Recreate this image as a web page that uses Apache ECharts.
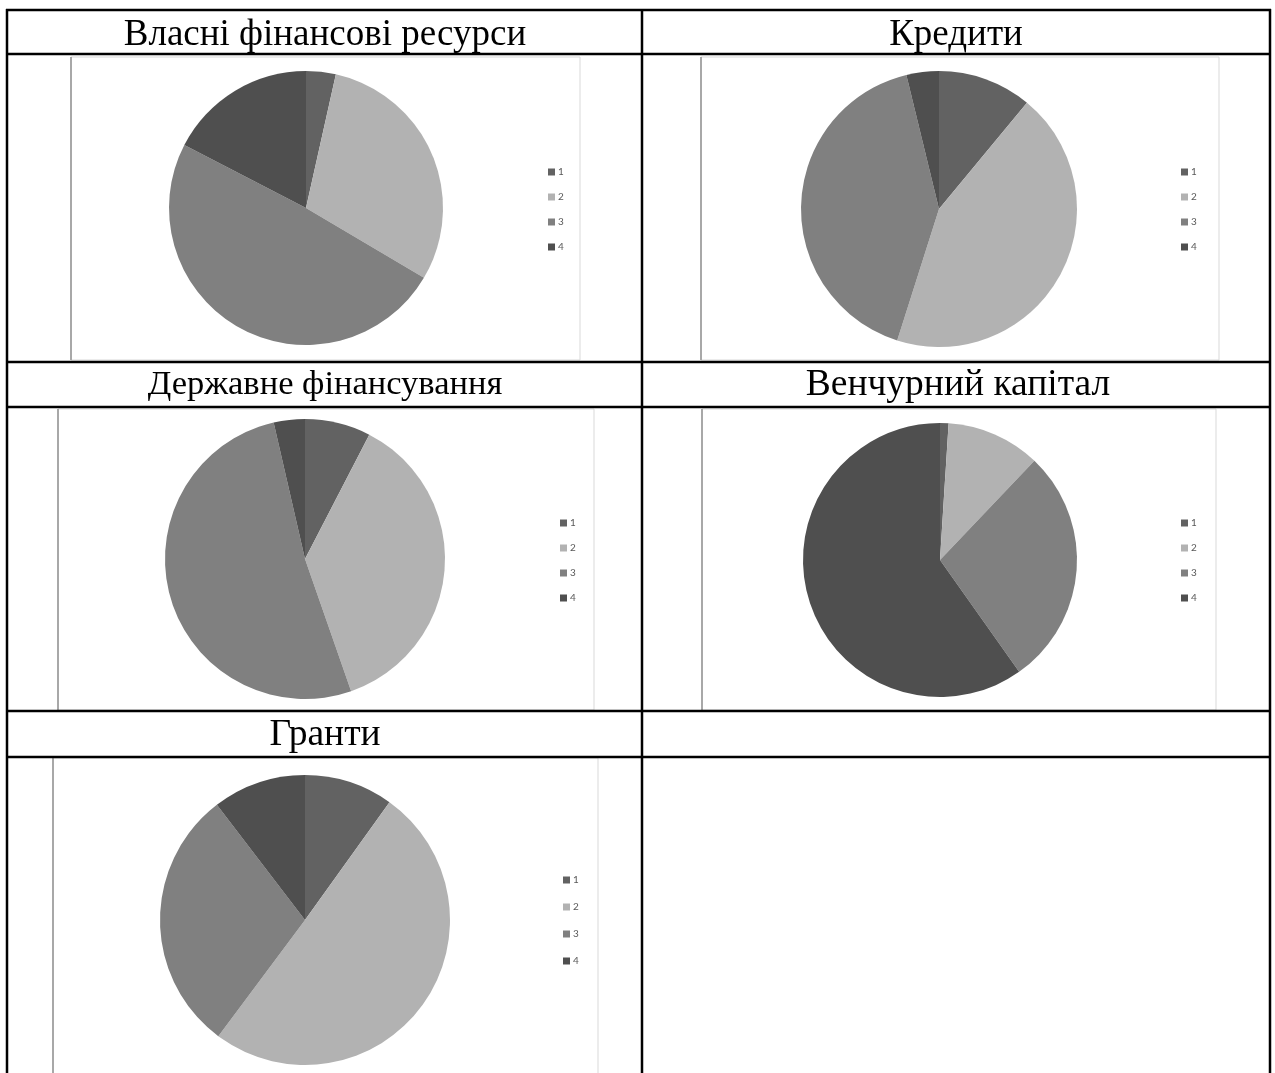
<!DOCTYPE html>
<html>
<head>
<meta charset="utf-8">
<script src="https://cdn.jsdelivr.net/npm/echarts@6/dist/echarts.min.js"></script>
<style>
  html, body { margin: 0; padding: 0; background: #fff; }
  #chart { width: 1275px; height: 1073px; }
</style>
</head>
<body>
<div id="chart"></div>
<script>
// slice names (legend)
var sliceNames = ["1", "2", "3", "4"];

// shares per source of financing
var ownFunds = [3.5, 30.0, 49.1, 17.4];
var credits = [11.0, 43.9, 41.3, 3.8];
var stateFunding = [7.6, 37.1, 51.8, 3.6];
var ventureCapital = [1.0, 11.1, 28.1, 59.8];
var grants = [9.9, 50.3, 29.4, 10.4];

var titles = [
  "Власні фінансові ресурси",
  "Кредити",
  "Державне фінансування",
  "Венчурний капітал",
  "Гранти"
];

var sliceColors = ["#626262", "#b2b2b2", "#808080", "#4f4f4f"];

// layout of the table cells
var cells = [
  { tx: 325, ty: 35.5, fs: 37, frame: [71, 57, 580, 360], center: [306, 208], r: 137, legend: [548, 167], gap: 15 },
  { tx: 956, ty: 35.5, fs: 37, frame: [701, 57, 1219, 360], center: [939, 209], r: 138, legend: [1181, 167], gap: 15 },
  { tx: 325, ty: 384.5, fs: 34.5, frame: [58, 409, 594, 710], center: [305, 559], r: 140, legend: [560, 518], gap: 15 },
  { tx: 958, ty: 385.5, fs: 37.5, frame: [702, 409, 1216, 710], center: [940, 560], r: 137, legend: [1181, 518], gap: 15 },
  { tx: 325, ty: 735.5, fs: 37.5, frame: [53, 758, 598, 1080], center: [305, 920], r: 145, legend: [563, 875], gap: 17 }
];

var seriesData = [ownFunds, credits, stateFunding, ventureCapital, grants];

var chart = echarts.init(document.getElementById("chart"));

var graphics = [];
// chart area frames (excel-like)
cells.forEach(function (c) {
  var f = c.frame;
  graphics.push({
    type: "rect", z: 0,
    shape: { x: f[0], y: f[1], width: f[2] - f[0], height: f[3] - f[1] },
    style: { fill: "#fff", stroke: "#d9d9d9", lineWidth: 1 }
  });
  graphics.push({
    type: "line", z: 1,
    shape: { x1: f[0], y1: f[1], x2: f[0], y2: f[3] },
    style: { stroke: "#a8a8a8", lineWidth: 2 }
  });
});

// table borders
var hLines = [10, 54, 362, 407, 711, 757];
hLines.forEach(function (y) {
  graphics.push({
    type: "line", z: 10,
    shape: { x1: 6, y1: y, x2: 1271, y2: y },
    style: { stroke: "#000", lineWidth: 2.5 }
  });
});
[7, 642, 1270].forEach(function (x) {
  graphics.push({
    type: "line", z: 10,
    shape: { x1: x, y1: 9, x2: x, y2: 1073 },
    style: { stroke: "#000", lineWidth: 2.5 }
  });
});

// cell titles
cells.forEach(function (c, i) {
  graphics.push({
    type: "text", z: 10,
    x: c.tx, y: c.ty,
    style: {
      text: titles[i],
      font: c.fs + "px 'Liberation Serif', 'Times New Roman', serif",
      fill: "#000",
      align: "center", verticalAlign: "middle",
      textAlign: "center", textVerticalAlign: "middle"
    }
  });
});

var series = cells.map(function (c, i) {
  return {
    type: "pie",
    name: titles[i],
    center: c.center,
    radius: c.r,
    startAngle: 90,
    clockwise: true,
    silent: true,
    label: { show: false },
    labelLine: { show: false },
    itemStyle: { borderWidth: 0 },
    emphasis: { disabled: true },
    data: seriesData[i].map(function (v, k) {
      return { name: sliceNames[k], value: v, itemStyle: { color: sliceColors[k] } };
    })
  };
});

var legends = cells.map(function (c) {
  return {
    orient: "vertical",
    left: c.legend[0],
    top: c.legend[1],
    padding: 0,
    itemWidth: 7,
    itemHeight: 7,
    itemGap: c.gap,
    icon: "rect",
    selectedMode: false,
    data: sliceNames,
    textStyle: {
      fontSize: 10,
      lineHeight: 10,
      color: "#595959",
      fontFamily: "Lato, 'Open Sans', sans-serif",
      padding: [0, 0, 0, -2]
    }
  };
});

chart.setOption({
  animation: false,
  backgroundColor: "#fff",
  color: sliceColors,
  legend: legends,
  graphic: { elements: graphics },
  series: series
});
</script>
</body>
</html>
